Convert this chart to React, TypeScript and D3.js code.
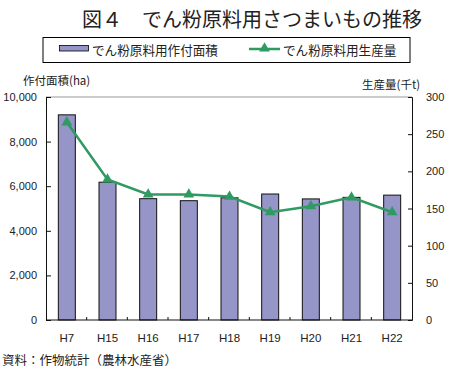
import React, { useEffect, useRef } from 'react';
import * as d3 from 'd3';

const years = ['H7', 'H15', 'H16', 'H17', 'H18', 'H19', 'H20', 'H21', 'H22'];
// 作付面積 (ha)
const area = [9200, 6180, 5440, 5350, 5480, 5650, 5430, 5500, 5600];
// 生産量 (千t)
const production = [266, 189, 169, 169, 166, 145, 153, 165, 145];
const areaTicks = [0, 2000, 4000, 6000, 8000, 10000];
const prodTicks = [0, 50, 100, 150, 200, 250, 300];

const W = 452, H = 373;
const left = 46, right = 412, top = 97, bottom = 320;
const barColor = '#9595c8';
const lineColor = '#2f9a62';
const jp = '"Noto Sans CJK JP", "Noto Sans", sans-serif';
const num = '"Liberation Sans", Arial, sans-serif';

function drawChart(svg: d3.Selection<SVGSVGElement, unknown, null, undefined>) {
  svg.selectAll('*').remove();

  const x = d3.scaleBand().domain(years).range([left, right]);
  const yL = d3.scaleLinear().domain([0, 10000]).range([bottom, top]);
  const yR = d3.scaleLinear().domain([0, 300]).range([bottom, top]);
  const barW = 17;

  // title
  svg.append('text')
    .attr('x', 82).attr('y', 18)
    .attr('dominant-baseline', 'central')
    .style('font-family', jp).style('font-size', '20px').style('font-weight', 400)
    .attr('fill', '#222')
    .text('図４　でん粉原料用さつまいもの推移');

  // legend
  svg.append('rect')
    .attr('x', 43).attr('y', 37.5).attr('width', 367).attr('height', 25)
    .attr('fill', 'none').attr('stroke', '#000').attr('stroke-width', 1);
  svg.append('rect')
    .attr('x', 59.5).attr('y', 45.5).attr('width', 29).attr('height', 5.5)
    .attr('fill', barColor).attr('stroke', '#000').attr('stroke-width', 0.8);
  svg.append('text')
    .attr('x', 92).attr('y', 49.5).attr('dominant-baseline', 'central')
    .style('font-family', jp).style('font-size', '12.6px').attr('fill', '#222')
    .text('でん粉原料用作付面積');
  svg.append('line')
    .attr('x1', 249).attr('x2', 280).attr('y1', 49).attr('y2', 49)
    .attr('stroke', lineColor).attr('stroke-width', 2.5);
  svg.append('path')
    .attr('d', d3.symbol(d3.symbolTriangle, 50)())
    .attr('transform', 'translate(264.5,48.5)')
    .attr('fill', lineColor);
  svg.append('text')
    .attr('x', 283).attr('y', 49.5).attr('dominant-baseline', 'central')
    .style('font-family', jp).style('font-size', '12.6px').attr('fill', '#222')
    .text('でん粉原料用生産量');

  // axis titles
  svg.append('text')
    .attr('x', 23).attr('y', 80).attr('dominant-baseline', 'central')
    .style('font-family', jp).style('font-size', '11.5px').attr('fill', '#222')
    .text('作付面積(ha)');
  svg.append('text')
    .attr('x', 362).attr('y', 84).attr('dominant-baseline', 'central')
    .style('font-family', jp).style('font-size', '11.5px').attr('fill', '#222')
    .text('生産量(千t)');

  // top gridline
  svg.append('line')
    .attr('x1', left).attr('x2', right).attr('y1', yL(10000)).attr('y2', yL(10000))
    .attr('stroke', '#999').attr('stroke-width', 1);

  // bars
  svg.append('g')
    .selectAll('rect')
    .data(area)
    .join('rect')
    .attr('x', (d, i) => x(years[i])! + x.bandwidth() / 2 - barW / 2 + 0.5)
    .attr('y', d => yL(d))
    .attr('width', barW)
    .attr('height', d => bottom - yL(d))
    .attr('fill', barColor)
    .attr('stroke', '#111')
    .attr('stroke-width', 1);

  // left axis
  const axL = svg.append('g').attr('transform', `translate(${left},0)`)
    .call(d3.axisLeft(yL).tickValues(areaTicks).tickSize(-5).tickPadding(9)
      .tickFormat(d3.format(',')));
  axL.select('.domain').attr('stroke', '#111');
  axL.selectAll('line').attr('stroke', '#111');
  axL.selectAll('text').style('font-family', num).style('font-size', '11px').attr('fill', '#222');

  // right axis
  const axR = svg.append('g').attr('transform', `translate(${right},0)`)
    .call(d3.axisRight(yR).tickValues(prodTicks).tickSize(-4).tickPadding(14));
  axR.select('.domain').attr('stroke', '#111');
  axR.selectAll('line').attr('stroke', '#111');
  axR.selectAll('text').style('font-family', num).style('font-size', '11px').attr('fill', '#222');

  // bottom axis with ticks at category boundaries
  svg.append('line')
    .attr('x1', left).attr('x2', right).attr('y1', bottom).attr('y2', bottom)
    .attr('stroke', '#111').attr('stroke-width', 1.2);
  svg.append('g')
    .selectAll('line')
    .data(years.slice(1))
    .join('line')
    .attr('x1', d => x(d)!).attr('x2', d => x(d)!)
    .attr('y1', bottom).attr('y2', bottom - 3)
    .attr('stroke', '#111');
  svg.append('g')
    .selectAll('text')
    .data(years)
    .join('text')
    .attr('x', d => x(d)! + x.bandwidth() / 2 + 0.5)
    .attr('y', 338)
    .attr('text-anchor', 'middle')
    .attr('dominant-baseline', 'central')
    .style('font-family', num).style('font-size', '11.5px').attr('fill', '#222')
    .text(d => d);

  // production line
  const line = d3.line<number>()
    .x((d, i) => x(years[i])! + x.bandwidth() / 2 + 0.5)
    .y(d => yR(d));
  svg.append('path')
    .datum(production)
    .attr('d', line)
    .attr('fill', 'none')
    .attr('stroke', lineColor)
    .attr('stroke-width', 2.5);
  svg.append('g')
    .selectAll('path')
    .data(production)
    .join('path')
    .attr('d', d3.symbol(d3.symbolTriangle, 50)())
    .attr('transform', (d, i) => `translate(${x(years[i])! + x.bandwidth() / 2 + 0.5},${yR(d)})`)
    .attr('fill', lineColor);

  // source
  svg.append('text')
    .attr('x', 2).attr('y', 359).attr('dominant-baseline', 'central')
    .style('font-family', jp).style('font-size', '12.5px').attr('fill', '#222')
    .text('資料：作物統計（農林水産省）');
}

export default function App() {
  const ref = useRef<SVGSVGElement>(null);
  useEffect(() => {
    document.body.style.margin = '0';
    if (ref.current) drawChart(d3.select(ref.current));
  }, []);
  return <svg ref={ref} width={W} height={H} style={{ display: 'block', background: '#fff' }} />;
}
